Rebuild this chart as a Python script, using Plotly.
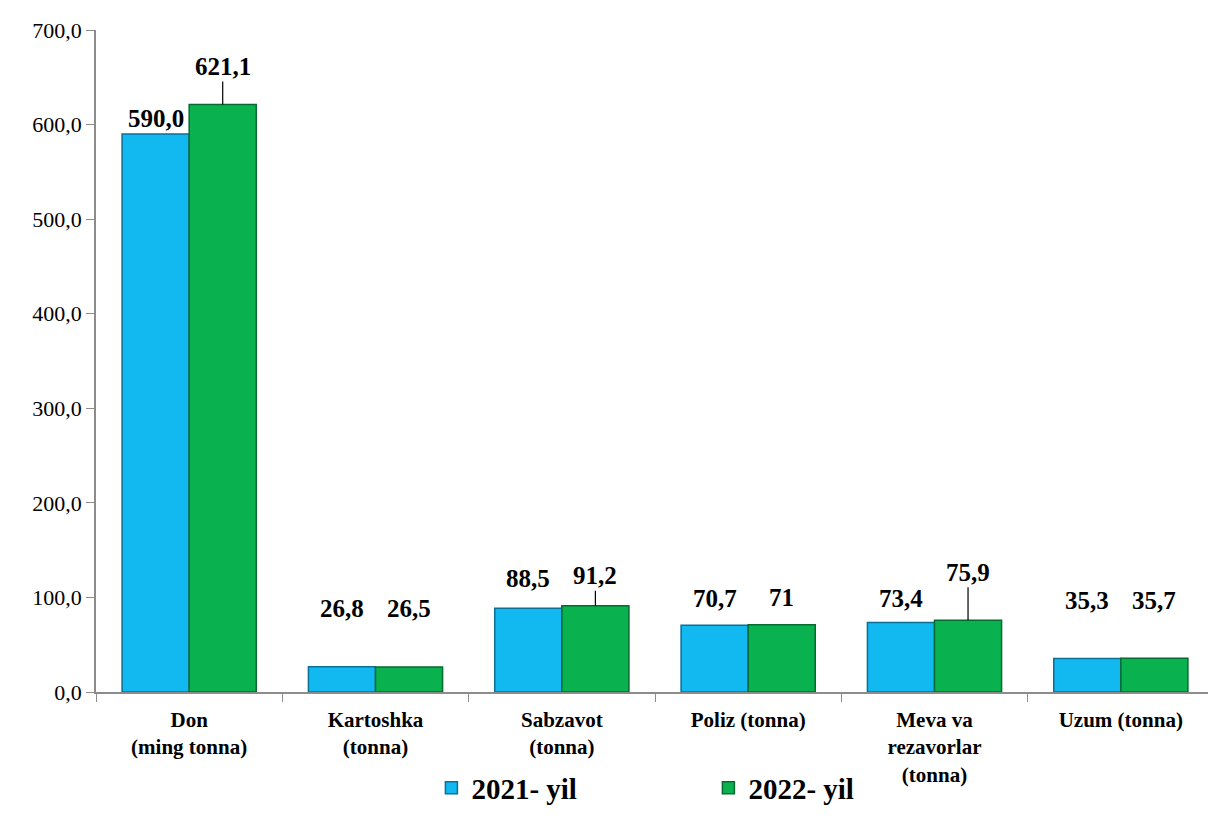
import plotly.graph_objects as go

categories = ["Don<br>(ming tonna)", "Kartoshka<br>(tonna)", "Sabzavot<br>(tonna)",
              "Poliz (tonna)", "Meva va<br>rezavorlar<br>(tonna)", "Uzum (tonna)"]
y2021 = [590.0, 26.8, 88.5, 70.7, 73.4, 35.3]
y2022 = [621.1, 26.5, 91.2, 71, 75.9, 35.7]
series_names = ["2021- yil", "2022- yil"]

FONT = "Liberation Serif"
BLUE, BLUE_EDGE = "#12b8f0", "#0b6f96"
GREEN, GREEN_EDGE = "#0ab14f", "#056b2f"

# label offsets (px above bar top) and whether a leader line is drawn
off_2021 = [-16, -58, -30, -27, -24, -58]
off_2022 = [-38, -58, -30, -27, -48, -58]
lead_2021 = [False] * 6
lead_2022 = [True, False, True, False, True, False]


def fmt(v):
    return str(v).replace(".", ",")


fig = go.Figure()
for name, vals, col, edge in [(series_names[0], y2021, BLUE, BLUE_EDGE),
                              (series_names[1], y2022, GREEN, GREEN_EDGE)]:
    fig.add_trace(go.Bar(
        x=categories, y=vals, name=name,
        marker=dict(color=col, line=dict(color=edge, width=1.5)),
    ))

# data labels
half = 1118 / 6 * 0.72 / 4
for vals, offs, leads, sh in [(y2021, off_2021, lead_2021, -half),
                              (y2022, off_2022, lead_2022, half)]:
    for c, v, o, ld in zip(categories, vals, offs, leads):
        fig.add_annotation(
            x=c, y=v, xshift=sh, text=f"<b>{fmt(v)}</b>",
            showarrow=True, ax=0, ay=o, arrowhead=0, arrowwidth=1.2,
            arrowcolor="black" if ld else "rgba(0,0,0,0)",
            standoff=0, startstandoff=0,
            font=dict(family=FONT, size=25, color="black"),
        )

fig.update_layout(
    width=1216, height=816,
    margin=dict(l=88, r=10, t=17, b=131),
    plot_bgcolor="white", paper_bgcolor="white",
    barmode="group", bargap=0.28, bargroupgap=0,
    separators=", ",
    font=dict(family=FONT, color="black"),
    showlegend=True,
    legend=dict(orientation="h", x=0.3, xanchor="left", y=-0.145, yanchor="middle",
                bgcolor="rgba(0,0,0,0)",
                font=dict(family=FONT, size=29, color="black", weight="bold"),
                entrywidth=232, itemwidth=30),
)
fig.update_yaxes(range=[0, 700], dtick=100, tickformat=".1f",
                 showgrid=False, showline=True, linecolor="#8c8c8c", linewidth=1.5,
                 ticks="outside", ticklen=8, tickcolor="#8c8c8c",
                 tickfont=dict(family=FONT, size=22, color="black"))
fig.update_xaxes(showline=True, linecolor="#8c8c8c", linewidth=1.5,
                 ticks="outside", tickson="boundaries", ticklen=8, tickcolor="#8c8c8c",
                 ticklabelstandoff=8,
                 tickfont=dict(family=FONT, size=21, color="black", weight="bold"))

fig.write_html("out.html")
